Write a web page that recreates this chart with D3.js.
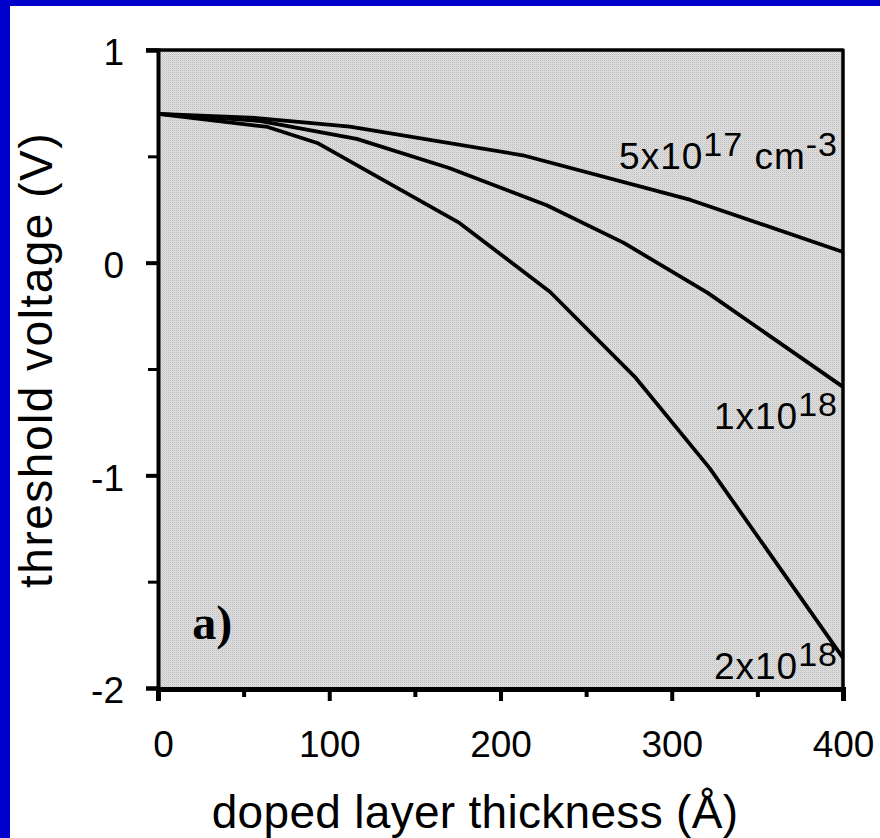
<!DOCTYPE html>
<html>
<head>
<meta charset="utf-8">
<script src="https://cdn.jsdelivr.net/npm/d3@7"></script>
<style>
  html, body { margin: 0; padding: 0; background: #fff; }
  svg { display: block; }
</style>
</head>
<body>
<svg id="chart" width="880" height="838"></svg>
<script>
// thickness in Angstrom, threshold voltage in V
var x5e17 = [0, 58, 112, 213, 311, 400];
var v5e17 = [0.70, 0.68, 0.64, 0.505, 0.295, 0.05];

var x1e18 = [0, 60, 116, 170, 227, 272, 321, 363, 400];
var v1e18 = [0.70, 0.666, 0.582, 0.445, 0.27, 0.093, -0.142, -0.377, -0.584];

var x2e18 = [0, 64, 93, 176, 229, 279, 322, 400];
var v2e18 = [0.70, 0.638, 0.563, 0.187, -0.138, -0.542, -0.965, -1.858];

var xTicks = [0, 50, 100, 150, 200, 250, 300, 350, 400];
var xTickLabels = ["0", "", "100", "", "200", "", "300", "", "400"];
var yTicks = [1, 0.5, 0, -0.5, -1, -1.5, -2];
var yTickLabels = ["1", "", "0", "", "-1", "", "-2"];

var series = [
  { xs: x5e17, vs: v5e17, base: "5x10", sup: "17", unit: " cm", unitSup: "-3", labelV: 0.44 },
  { xs: x1e18, vs: v1e18, base: "1x10", sup: "18", labelV: -0.78 },
  { xs: x2e18, vs: v2e18, base: "2x10", sup: "18", labelV: -1.96 }
];

PlotChart();

function PlotChart(){
var svg = d3.select("svg");
var left = 158, right = 843, top = 50, bottom = 688;

var x = d3.scaleLinear().domain([0, 400]).range([left, right]);
var y = d3.scaleLinear().domain([-2, 1]).range([bottom, top]);

// blue frame (left + top only)
svg.append("rect").attr("x", 0).attr("y", 0).attr("width", 880).attr("height", 6).attr("fill", "#0000cc");
svg.append("rect").attr("x", 0).attr("y", 0).attr("width", 10).attr("height", 838).attr("fill", "#0000cc");

// dotted grey fill of the plot area
var defs = svg.append("defs");
var pat = defs.append("pattern").attr("id", "dots")
  .attr("width", 2).attr("height", 2).attr("patternUnits", "userSpaceOnUse");
pat.append("rect").attr("width", 2).attr("height", 2).attr("fill", "#e2e2e2");
pat.append("rect").attr("width", 1).attr("height", 1).attr("fill", "#bdbdbd");
pat.append("rect").attr("x", 1).attr("y", 1).attr("width", 1).attr("height", 1).attr("fill", "#cfcfcf");

svg.append("rect")
  .attr("x", x(0)).attr("y", y(1))
  .attr("width", x(400) - x(0)).attr("height", y(-2) - y(1))
  .attr("fill", "url(#dots)");

// top and right border
svg.append("path")
  .attr("d", "M" + (x(0) - 12) + "," + y(1) + "H" + x(400) + "V" + y(-2))
  .attr("fill", "none").attr("stroke", "#000").attr("stroke-width", 3.5)
  .attr("stroke-linejoin", "round");

// curves
var line = d3.line()
  .x(function(d) { return x(d[0]); })
  .y(function(d) { return y(d[1]); });

series.forEach(function(s) {
  var pts = s.xs.map(function(v, i) { return [v, s.vs[i]]; });
  svg.append("path")
    .datum(pts)
    .attr("d", line)
    .attr("fill", "none")
    .attr("stroke", "#000")
    .attr("stroke-width", 3.8)
    .attr("stroke-linejoin", "round");
});

// y axis
var yAxis = d3.axisLeft(y)
  .tickValues(yTicks)
  .tickSize(12)
  .tickPadding(22)
  .tickFormat(function(d, i) { return yTickLabels[i]; });

var gy = svg.append("g").attr("transform", "translate(" + x(0) + ",0)").call(yAxis);
gy.select(".domain").attr("stroke-width", 4);
gy.selectAll(".tick line").attr("stroke-width", function(d, i) { return i % 2 ? 3 : 4; })
  .attr("x2", function(d, i) { return i % 2 ? -10 : -12; });
gy.selectAll(".tick text")
  .attr("font-family", "'Liberation Sans', Arial, sans-serif")
  .attr("font-size", 37)
  .attr("dy", "0.4em")
  .attr("fill", "#000");

// x axis
var xAxis = d3.axisBottom(x)
  .tickValues(xTicks)
  .tickSize(12)
  .tickPadding(30)
  .tickFormat(function(d, i) { return xTickLabels[i]; });

var gx = svg.append("g").attr("transform", "translate(0," + (y(-2) + 1) + ")").call(xAxis);
gx.select(".domain").attr("stroke-width", 5);
gx.selectAll(".tick line").attr("stroke-width", 4)
  .attr("y2", function(d, i) { return i % 2 ? 8 : 12; });
gx.selectAll(".tick text")
  .attr("font-family", "'Liberation Sans', Arial, sans-serif")
  .attr("font-size", 37)
  .attr("fill", "#000");
gx.select(".tick text").attr("dx", 5);

// curve labels
series.forEach(function(s) {
  var t = svg.append("text")
    .attr("x", x(400) - 5)
    .attr("y", y(s.labelV))
    .attr("text-anchor", "end")
    .attr("font-family", "'Liberation Sans', Arial, sans-serif")
    .attr("font-size", 37)
    .attr("letter-spacing", 1)
    .attr("fill", "#000");
  t.append("tspan").text(s.base);
  t.append("tspan").attr("dy", -13).attr("font-size", 34).text(s.sup);
  if (s.unit) {
    t.append("tspan").attr("dy", 13).text(s.unit);
    t.append("tspan").attr("dy", -13).attr("font-size", 34).text(s.unitSup);
  }
});

// panel letter
svg.append("text")
  .attr("x", x(20)).attr("y", y(-1.77))
  .attr("font-family", "'Liberation Serif', 'Times New Roman', serif")
  .attr("font-weight", "bold")
  .attr("font-size", 48)
  .attr("fill", "#000")
  .text("a)");

// axis titles
svg.append("text")
  .attr("x", 475).attr("y", 828)
  .attr("text-anchor", "middle")
  .attr("font-family", "'Liberation Sans', Arial, sans-serif")
  .attr("font-size", 46)
  .attr("letter-spacing", 0.3)
  .attr("fill", "#000")
  .text("doped layer thickness (Å)");

svg.append("text")
  .attr("transform", "translate(52,360) rotate(-90)")
  .attr("text-anchor", "middle")
  .attr("font-family", "'Liberation Sans', Arial, sans-serif")
  .attr("font-size", 46)
  .attr("letter-spacing", 1.5)
  .attr("fill", "#000")
  .text("threshold voltage (V)");
}
</script>
</body>
</html>
